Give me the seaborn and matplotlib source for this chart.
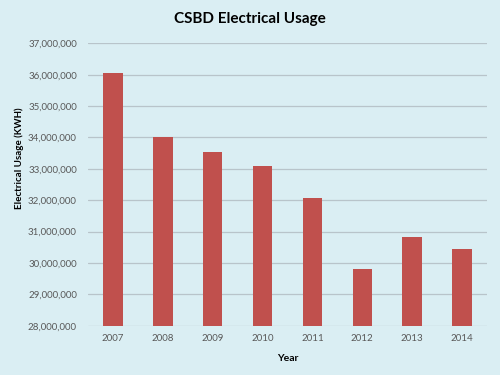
import matplotlib
matplotlib.use("Agg")
import matplotlib.pyplot as plt
import matplotlib.ticker as mticker
import seaborn as sns
import pandas as pd

years = ["2007", "2008", "2009", "2010", "2011", "2012", "2013", "2014"]
usage = [36050000, 34000000, 33520000, 33100000, 32070000, 29800000, 30830000, 30440000]

df = pd.DataFrame({"Year": years, "Usage": usage})

sns.set_style("white")
plt.rcParams['font.family'] = ['Lato', 'DejaVu Sans']

bg = "#DAEEF3"
fig = plt.figure(figsize=(5, 3.75), dpi=100, facecolor=bg)
ax = fig.add_axes([0.176, 0.1315, 0.798, 0.753])
ax.set_facecolor(bg)

sns.barplot(data=df, x="Year", y="Usage", color="#C0504D", width=0.39,
            saturation=1, ax=ax, zorder=3, linewidth=0)

ax.set_ylim(28000000, 37000000)
ax.set_xlim(-0.5, 7.5)
ax.yaxis.set_major_locator(mticker.MultipleLocator(1000000))
ax.yaxis.set_major_formatter(mticker.FuncFormatter(lambda v, p: f"{int(v):,}"))
ax.grid(axis="y", color="#B8C4CA", linewidth=0.9, zorder=0)
ax.set_axisbelow(True)
for s in ax.spines.values():
    s.set_visible(False)
ax.tick_params(axis="both", length=0, labelsize=7, colors="#595959")
ax.tick_params(axis="y", pad=8)
ax.tick_params(axis="x", pad=6)

ax.set_xlabel("Year", fontsize=7.5, fontweight="bold", color="#000000", labelpad=8)
ax.set_ylabel("")
fig.text(19 / 500, 1 - 158 / 375, "Electrical Usage (KWH)", rotation=90,
         ha="center", va="center", fontsize=7, fontweight="bold", color="#000000")
fig.text(0.5, 1 - 19 / 375, "CSBD Electrical Usage", ha="center", va="center",
         fontsize=11, fontweight="bold", color="#000000")

fig.savefig("out.png", dpi=100, facecolor=bg)
